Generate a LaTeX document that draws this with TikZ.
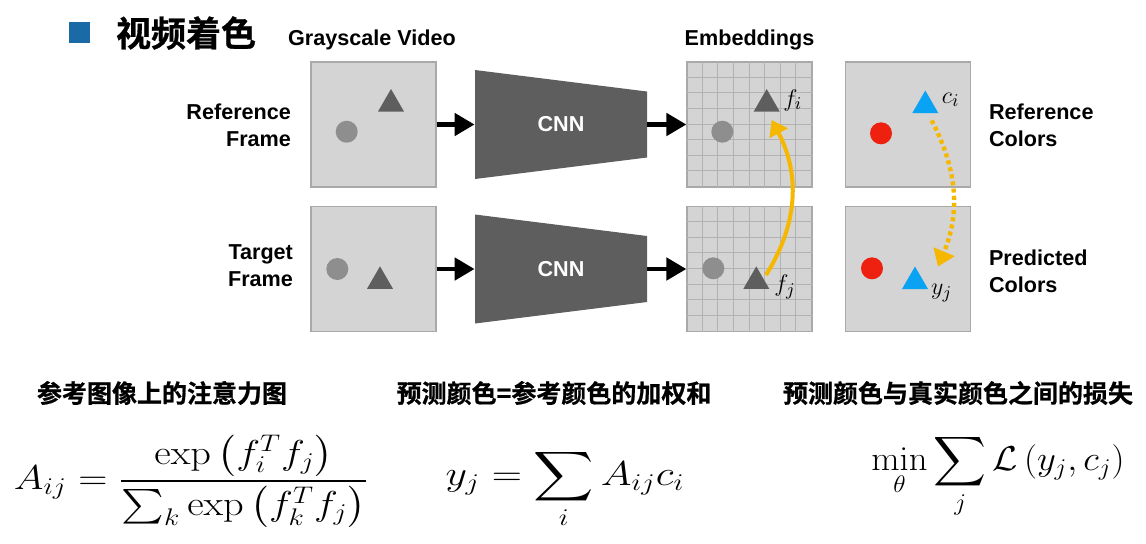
\documentclass[tikz,border=0pt]{standalone}
\usepackage{exscale}
\usepackage[no-math]{fontspec}
\setmainfont{Liberation Sans}
\newfontfamily\cjk{Noto Sans CJK SC}[BoldFont={Noto Sans CJK SC Bold}, BoldFeatures={FakeBold=0.8}]
\usetikzlibrary{arrows.meta,shapes.geometric}

\definecolor{framegray}{HTML}{D4D4D4}
\definecolor{edgegray}{HTML}{A9A9A9}
\definecolor{dotgray}{HTML}{8E8E8E}
\definecolor{shapegray}{HTML}{5E5E5E}
\definecolor{gridgray}{HTML}{B2B2B2}
\definecolor{colred}{HTML}{EE2010}
\definecolor{colblue}{HTML}{0AA2F2}
\definecolor{arrorange}{HTML}{F5B700}
\definecolor{titleblue}{HTML}{1A6AA5}

\tikzset{
  frame/.style = {draw=edgegray, line width=0.6pt, fill=framegray, minimum size=62.5pt, inner sep=0pt},
  gridline/.style = {gridgray, line width=0.4pt},
  cnn/.style = {minimum width=86pt, minimum height=54.5pt, inner sep=0pt, text=white,
      font=\fontsize{10.8}{12}\selectfont\bfseries, path picture={
      \fill[shapegray] (path picture bounding box.north west)
        -- ([yshift=-10.75pt]path picture bounding box.north east)
        -- ([yshift=10.75pt]path picture bounding box.south east)
        -- (path picture bounding box.south west) -- cycle;}},
  disc/.style = {circle, minimum size=11pt, inner sep=0pt},
  tri/.style = {regular polygon, regular polygon sides=3, minimum size=15pt, inner sep=0pt},
  lbl/.style = {font=\fontsize{10.8}{13.5}\selectfont\bfseries},
  mlab/.style = {inner sep=0pt, font=\fontsize{12.5}{15}\selectfont},
  head/.style = {font=\cjk\bfseries\fontsize{12.5}{15}\selectfont},
  eqn/.style = {inner sep=0pt, font=\fontsize{17}{20}\selectfont},
  flow/.style = {line width=2.4pt, -{Triangle[length=10pt,width=11pt]}},
  match/.style = {arrorange, line width=2pt, -{Triangle[length=7.5pt,width=10pt]}}
}

\begin{document}
\begin{tikzpicture}[x=0.5pt, y=-0.5pt]
  \useasboundingbox (0,0) rectangle (1146,543);

  % title
  \node[fill=titleblue, minimum size=10.5pt, inner sep=0pt] (bullet) at (79.5,32) {};
  \node[anchor=west, font=\cjk\bfseries\fontsize{17.5}{20}\selectfont] (title) at (109,33) {视频着色};

  % column heads
  \node[lbl] (grayhead) at (372,40) {Grayscale Video};
  \node[lbl] (embhead) at (749.5,40) {Embeddings};

  % frames, networks, embeddings, colours
  \node[frame] (refimg) at (373.5,124.5) {};
  \node[frame] (tgtimg) at (373.5,269) {};
  \node[cnn] (cnnA) at (561,124.5) {CNN};
  \node[cnn] (cnnB) at (561,269) {CNN};
  \node[frame] (embA) at (749.5,124.5) {};
  \node[frame] (embB) at (749.5,269) {};
  \node[frame] (colA) at (908,124.5) {};
  \node[frame] (colB) at (908,269) {};

  \foreach \e in {embA,embB}
    \foreach \k in {1,...,7} {
      \draw[gridline] ([xshift=\k*7.8125pt]\e.north west) -- ([xshift=\k*7.8125pt]\e.south west);
      \draw[gridline] ([yshift=-\k*7.8125pt]\e.north west) -- ([yshift=-\k*7.8125pt]\e.north east);
    }

  \draw[flow] (refimg) -- (cnnA);
  \draw[flow] (tgtimg) -- (cnnB);
  \draw[flow] (cnnA) -- (embA);
  \draw[flow] (cnnB) -- (embB);

  % objects
  \node[disc, fill=dotgray] (refdot) at (346.7,131.7) {};
  \node[tri, fill=shapegray] (reftri) at (391,104) {};
  \node[disc, fill=dotgray] (tgtdot) at (337.3,269) {};
  \node[tri, fill=shapegray] (tgttri) at (380,281.3) {};
  \node[disc, fill=dotgray] (embdotA) at (722.3,131.7) {};
  \node[tri, fill=shapegray] (embtriA) at (766.7,104) {};
  \node[disc, fill=dotgray] (embdotB) at (713.3,268.3) {};
  \node[tri, fill=shapegray] (embtriB) at (756.3,281.4) {};
  \node[disc, fill=colred] (coldotA) at (881,133.3) {};
  \node[tri, fill=colblue] (coltriA) at (925.3,105.5) {};
  \node[disc, fill=colred] (coldotB) at (872,268.3) {};
  \node[tri, fill=colblue] (coltriB) at (915,281.5) {};

  \node[mlab] (fi) at (792.7,100) {$f_i$};
  \node[mlab] (fj) at (785,287) {$f_j$};
  \node[mlab] (ci) at (950.7,100) {$c_i$};
  \node[mlab] (yj) at (941.7,293) {$y_j$};

  \draw[match] ([xshift=4.85pt,yshift=3.2pt]embtriB.center) to[bend right=30] ([xshift=2.5pt,yshift=-8pt]embtriA.center);
  \draw[match, line width=2.2pt, dash pattern=on 2pt off 1.6pt, -{Triangle[length=8pt,width=11pt]}]
    ([xshift=3.2pt,yshift=-3.5pt]coltriA.south) to[bend left=25] ([xshift=11.5pt,yshift=7.5pt]coltriB.center);

  % row labels
  \node[lbl, align=right, anchor=east] (reflbl) at (298,125) {Reference\\Frame};
  \node[lbl, align=right, anchor=east] (tgtlbl) at (300,266) {Target\\Frame};
  \node[lbl, align=left, anchor=west] (refcol) at (982,125) {Reference\\Colors};
  \node[lbl, align=left, anchor=west] (predcol) at (982,271) {Predicted\\Colors};

  % formulas
  \node[head] (headA) at (162,393) {参考图像上的注意力图};
  \node[head] (headB) at (554,393) {预测颜色=参考颜色的加权和};
  \node[head] (headC) at (958,393) {预测颜色与真实颜色之间的损失};
  \node[eqn] (eqA) at (191.5,481) {\scalebox{1.17}[1]{$\displaystyle A_{ij}=\frac{\exp\left(f_i^T f_j\right)}{\sum_k \exp\left(f_k^T f_j\right)}$}};
  \node[eqn, font=\fontsize{17.6}{20}\selectfont, anchor=base] (eqB) at (565,485) {\scalebox{1.21}[1]{$\displaystyle y_j=\sum_i A_{ij}c_i$}};
  \node[eqn, anchor=base] (eqC) at (998,470) {\scalebox{1.06}[1]{$\displaystyle \min_\theta\sum_j\mathcal{L}\left(y_j,c_j\right)$}};
\end{tikzpicture}
\end{document}
